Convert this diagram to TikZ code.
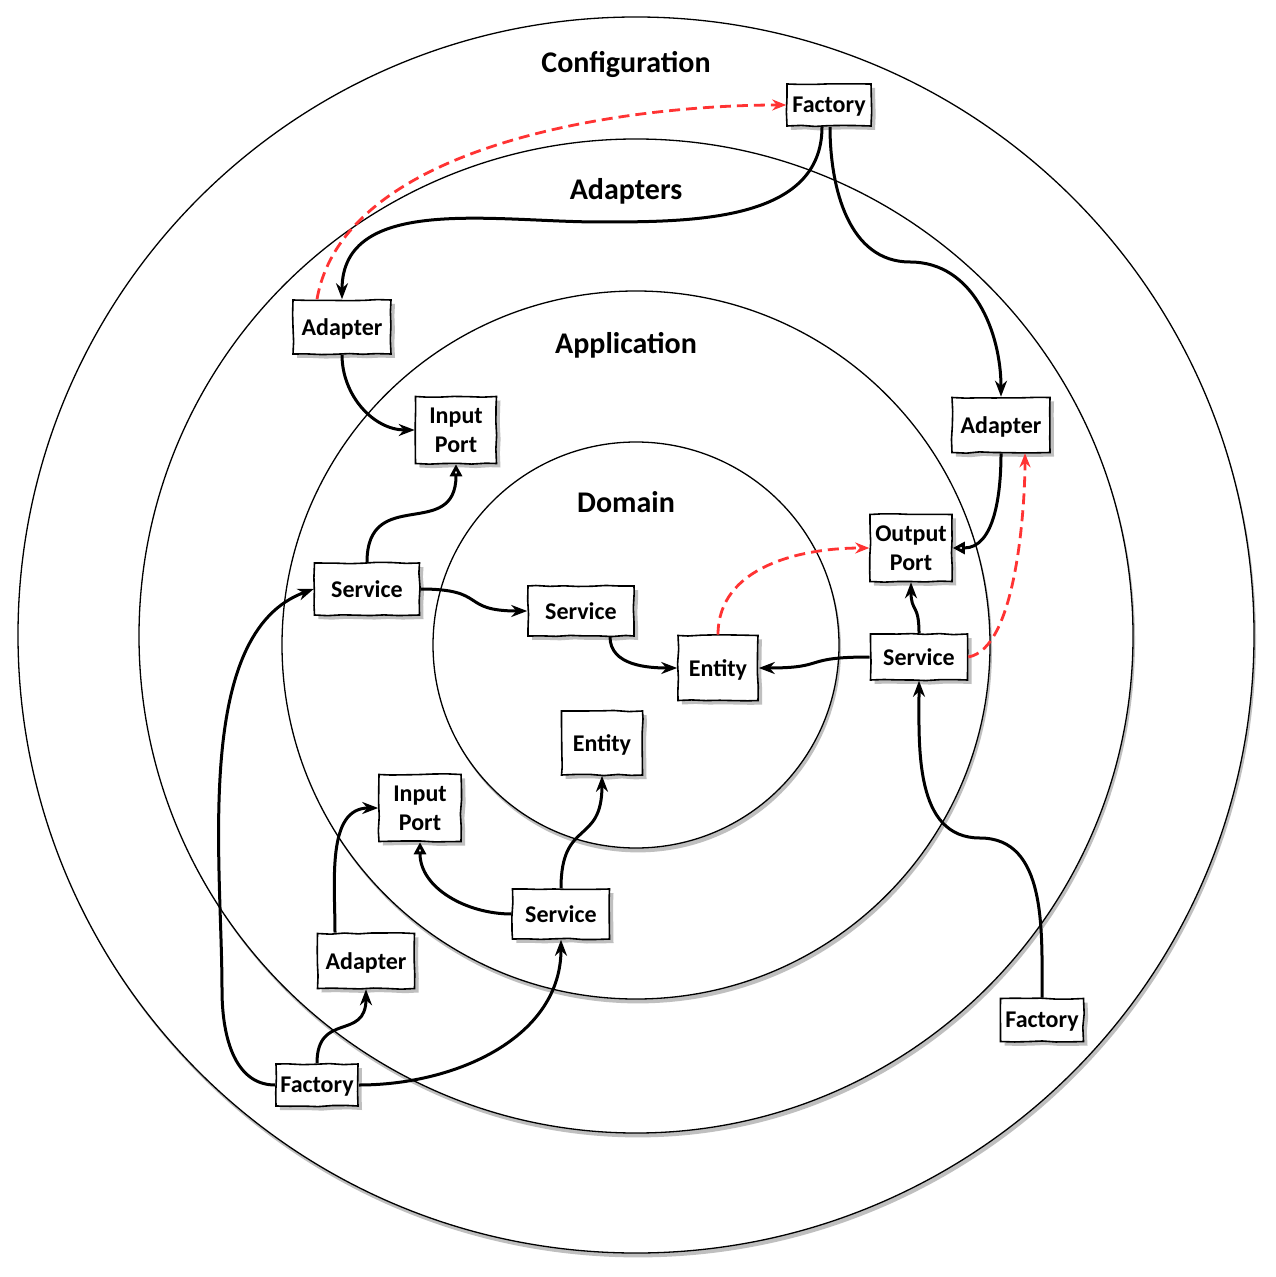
\documentclass[tikz,border=0pt]{standalone}
\usepackage{fontspec}
\setmainfont{Carlito}
\usetikzlibrary{arrows.meta,shadows,decorations.pathmorphing}

\definecolor{dashred}{RGB}{255,51,51}

\tikzset{
  ring/.style={draw, line width=0.65pt, fill=white},
  ringshade/.style={fill=black!25, shift={(1pt,-2.2pt)}},
  box/.style={draw, line width=0.8pt, fill=white, align=center, inner sep=1pt,
    font=\fontsize{12}{14.5}\selectfont\bfseries, text depth=0pt,
    decorate, decoration={random steps, segment length=7pt, amplitude=0.35pt},
    drop shadow={shadow xshift=2pt, shadow yshift=-2pt, fill=black!25, opacity=1}},
  layer/.style={font=\fontsize{15}{18}\selectfont\bfseries, text depth=0pt},
  uses/.style={-{Stealth[length=8pt,width=6pt]}, line width=1.5pt},
  impl/.style={-{Triangle[open,length=6pt,width=6pt]}, line width=1.5pt},
  creates/.style={-{Stealth[length=7pt,width=5.5pt]}, line width=1.4pt, dashred,
    dash pattern=on 5.5pt off 3pt}
}

\begin{document}
\begin{tikzpicture}[x=0.5pt,y=-0.5pt]
    \useasboundingbox (0,0) rectangle (1275,1277);

    % Rings
    \fill[ringshade] (636,635) circle (309pt);
    \draw[ring] (636,635) circle (309pt);
    \fill[ringshade] (636,636) circle (248.5pt);
    \draw[ring] (636,636) circle (248.5pt);
    \fill[ringshade] (636,645) circle (177pt);
    \draw[ring] (636,645) circle (177pt);
    \fill[ringshade] (636,645) circle (101.5pt);
    \draw[ring] (636,645) circle (101.5pt);

    % Ring labels
    \node[layer] (cfgLbl) at (626,62) {Configuration};
    \node[layer] (adpLbl) at (626,189) {Adapters};
    \node[layer] (appLbl) at (626,343) {Application};
    \node[layer] (domLbl) at (626,502) {Domain};

    % Configuration
    \node[box, minimum width=42pt, minimum height=21pt] (factoryT) at (829,105) {Factory};
    \node[box, minimum width=41pt, minimum height=21pt] (factoryL) at (317,1085) {Factory};
    \node[box, minimum width=41.5pt, minimum height=21.5pt] (factoryR) at (1042,1020) {Factory};

    % Adapters
    \node[box, minimum width=49pt, minimum height=27pt] (adapterL) at (342,327) {Adapter};
    \node[box, minimum width=49pt, minimum height=27.5pt] (adapterR) at (1001,425) {Adapter};
    \node[box, minimum width=48.5pt, minimum height=27.5pt] (adapterB) at (366,961) {Adapter};

    % Application
    \node[box, minimum width=40.5pt, minimum height=33.5pt] (inputA) at (456,430) {Input\\Port};
    \node[box, minimum width=41pt, minimum height=33.5pt] (outputP) at (911,548) {Output\\Port};
    \node[box, minimum width=41pt, minimum height=33.5pt] (inputB) at (420,808) {Input\\Port};
    \node[box, minimum width=52.5pt, minimum height=26pt] (serviceL) at (367,589) {Service};
    \node[box, minimum width=48.5pt, minimum height=23pt] (serviceR) at (919,657) {Service};
    \node[box, minimum width=48.5pt, minimum height=25pt] (serviceB) at (561,914) {Service};

    % Domain
    \node[box, minimum width=53pt, minimum height=25pt] (serviceD) at (581,611) {Service};
    \node[box, minimum width=40pt, minimum height=32.5pt] (entityA) at (718,668) {Entity};
    \node[box, minimum width=40.5pt, minimum height=32pt] (entityB) at (602,743) {Entity};

    % Helper points for long connectors
    \coordinate (topBend) at (600,222);
    \coordinate (rightBend) at (910,262);
    \coordinate (lowBend) at (980,838);
    \coordinate (leftBend) at (222,990);

    % Uses
    \draw[uses] ([xshift=-3.5pt]factoryT.south) to[out=-90,in=0] (topBend)
        to[out=180,in=90] (adapterL.north);
    \draw[uses] ([xshift=0.5pt]factoryT.south) to[out=-90,in=180] (rightBend)
        to[out=0,in=90] (adapterR.north);
    \draw[uses] (adapterL.south) to[out=-90,in=180] (inputA.west);
    \draw[uses] (serviceL.east) to[out=0,in=180,looseness=1.6] (serviceD.west);
    \draw[uses] ([xshift=14.5pt]serviceD.south) to[out=-90,in=180] (entityA.west);
    \draw[uses] (serviceR.west) to[out=180,in=0,looseness=1.6] (entityA.east);
    \draw[uses] (serviceR.north) to[out=90,in=-90,looseness=1.5] (outputP.south);
    \draw[uses] (factoryR.north) to[out=90,in=0] (lowBend)
        to[out=180,in=-90] (serviceR.south);
    \draw[uses] (factoryL.west) to[out=180,in=-90] (leftBend)
        to[out=90,in=200,looseness=0.8] (serviceL.west);
    \draw[uses] (factoryL.north) to[out=90,in=-90,looseness=1.5] (adapterB.south);
    \draw[uses] (factoryL.east) to[out=0,in=-90] (serviceB.south);
    \draw[uses] ([xshift=-15.5pt]adapterB.north) to[out=90,in=180] (inputB.west);
    \draw[uses] (serviceB.north) to[out=90,in=-90,looseness=1.5] (entityB.south);

    % Implements
    \draw[impl] (serviceL.north) to[out=90,in=-90,looseness=1.5] (inputA.south);
    \draw[impl] (adapterR.south) to[out=-90,in=0] (outputP.east);
    \draw[impl] (serviceB.west) to[out=180,in=-90] (inputB.south);

    % Creates
    \draw[creates] ([xshift=-12.5pt]adapterL.north) to[out=80,in=180,looseness=0.8] (factoryT.west);
    \draw[creates] (entityA.north) to[out=90,in=180] (outputP.west);
    \draw[creates] (serviceR.east) to[out=10,in=-90,looseness=0.6] ([xshift=12pt]adapterR.south);

\end{tikzpicture}
\end{document}
